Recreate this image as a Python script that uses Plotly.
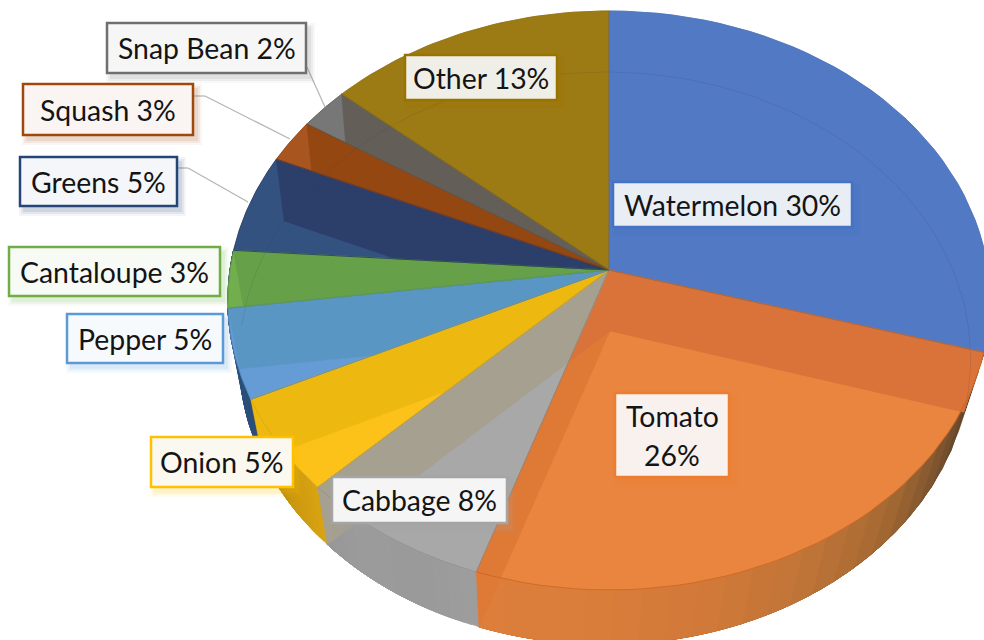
import math
import plotly.graph_objects as go

# --- data ---
names = ["Watermelon", "Tomato", "Cabbage", "Onion", "Pepper", "Cantaloupe", "Greens", "Squash", "Snap Bean", "Other"]
printed_pct = [30, 26, 8, 5, 5, 3, 5, 3, 2, 13]
drawn_share = [29.5, 25.6, 7.5, 5.3, 5.0, 3.2, 5.5, 2.45, 2.35, 13.6]

face = ["#5279C4", "#EA853F", "#A8A8A8", "#FCC21A", "#659CD6", "#72AE4E", "#345280", "#A8551F", "#777777", "#9D7B14"]
wall = ["#5279C4", "#D97339", "#A6A090", "#EDB911", "#5A96C4", "#66A048", "#2C3F6B", "#954712", "#635F58", "#9D7B14"]
edge = ["#4A70B8", "#C8641F", "#8F8F8F", "#D9A510", "#4E88BE", "#5E9A40", "#263A63", "#8A4010", "#5A5A52", "#8F7010"]
border = ["#4472C4", "#ED7D31", "#A5A5A5", "#FFC000", "#5B9BD5", "#70AD47", "#264478", "#9E480E", "#6F6F6F", "#997300"]
box_fill = ["#E9EEF5", "#F8F1ED", "#F5F5F5", "#FAF8EF", "#F6FAFD", "#F7FAF5", "#F5F6F9", "#FAF5F3", "#F6F6F6", "#F0EFE7"]
rim_stops = [
    ["#4A3A24", "#4A3A24"],
    ["#4A3A24", "#7A5230", "#A66A33", "#C27538", "#D27A3A", "#DA7E3B", "#DE7F3C"],
    ["#9E9E9E", "#9A9A9A", "#9C9C9C", "#989898"],
    ["#D9A514", "#C9960F", "#8F7A2A"],
    ["#2C4F7A", "#2C4F7A"],
    ["#2C4F7A", "#2C4F7A"],
]
tomato_left_wall = "#DF7A36"

# --- layout of the labels (px box: left, top, right, bottom) ---
boxes = [(613, 182, 852, 227), (615, 393, 729, 477), (332, 477, 507, 523), (151, 437, 293, 487),
         (67, 314, 223, 363), (9, 247, 220, 296), (20, 157, 177, 206), (23, 84, 193, 135),
         (107, 23, 306, 73), (405, 55, 557, 100)]
leaders = [[(306, 65), (325, 107)], [(193, 96), (205, 96), (290, 139)], [(177, 168), (188, 168), (248, 202)]]
FONT = "Lato"
FONT_SIZE = 28.4


def top_pt(t):
    X, Y = math.sin(t), math.cos(t)
    w = 1 + 0.1053 * Y
    return (609 + 379 * X / w, 270 - 286.3 * Y / w)


def bot_pt(t):
    X, Y = math.sin(t), math.cos(t)
    w = 1 + 0.0951 * Y
    return (605 + 364 * X / w, 331 - 283.6 * Y / w)


APEX_T, APEX_B = (609, 270), (610, 331)


def arc(fn, a, b, n=40):
    return [fn(a + (b - a) * i / n) for i in range(n + 1)]


def clip(subject, hull):
    area = sum(hull[i][0] * hull[(i + 1) % len(hull)][1] - hull[(i + 1) % len(hull)][0] * hull[i][1] for i in range(len(hull)))
    s = 1 if area > 0 else -1
    out = list(subject)
    for i in range(len(hull)):
        a, b = hull[i], hull[(i + 1) % len(hull)]
        side = lambda p: s * ((b[0] - a[0]) * (p[1] - a[1]) - (b[1] - a[1]) * (p[0] - a[0]))
        res = []
        for j in range(len(out)):
            p, q = out[j], out[(j + 1) % len(out)]
            sp, sq = side(p), side(q)
            if sp >= 0:
                res.append(p)
            if sp * sq < 0:
                u = sp / (sp - sq)
                res.append((p[0] + u * (q[0] - p[0]), p[1] + u * (q[1] - p[1])))
        out = res
        if not out:
            break
    return out


def hex_rgb(h):
    return tuple(int(h[i:i + 2], 16) for i in (1, 3, 5))


def mix(stops, u):
    u = min(max(u, 0), 1) * (len(stops) - 1)
    i = min(int(u), len(stops) - 2)
    f = u - i
    a, b = hex_rgb(stops[i]), hex_rgb(stops[i + 1])
    return "rgb(%d,%d,%d)" % tuple(a[k] + (b[k] - a[k]) * f for k in range(3))


fig = go.Figure()


def poly(pts, fill, line=None, width=0.0):
    fig.add_trace(go.Scatter(
        x=[p[0] for p in pts] + [pts[0][0]], y=[p[1] for p in pts] + [pts[0][1]],
        mode="lines", fill="toself", fillcolor=fill,
        line=dict(color=line or fill, width=width if line else 0.5),
        hoverinfo="skip", showlegend=False))


total = sum(drawn_share)
cuts = [0.0]
for v in drawn_share:
    cuts.append(cuts[-1] + v / total * 2 * math.pi)

# outer side of the solid, front part; each step runs on to the end of its slice so no seams show
for k, stops in enumerate(rim_stops):
    a, b = cuts[k], cuts[k + 1]
    if k == 0:
        a = math.radians(90)
    n = 24
    for i in range(n):
        t0 = a + (b - a) * i / n
        pts = arc(top_pt, t0, b, 12) + arc(bot_pt, b, t0, 12)
        poly(pts, mix(stops, (i + 0.5) / n))

# top faces
for k in range(len(names)):
    poly([APEX_T] + arc(top_pt, cuts[k], cuts[k + 1]), face[k])

# cut walls seen through the faces
for k in range(len(names)):
    sweep_a, sweep_b = top_pt(cuts[k]), top_pt(cuts[k + 1])
    far = lambda p: (APEX_T[0] + 4 * (p[0] - APEX_T[0]), APEX_T[1] + 4 * (p[1] - APEX_T[1]))
    wedge = [APEX_T, far(sweep_a), far(sweep_b)]
    for j, c in enumerate(cuts[1:-1], start=1):
        quad = [APEX_T, top_pt(c), bot_pt(c), APEX_B]
        part = clip(quad, wedge)
        if len(part) > 2:
            poly(part, tomato_left_wall if (k == 1 and j == 2) else wall[k])

# far edge of the lower disc, faintly through the top
far_edge = arc(bot_pt, cuts[6] - 0.05, 2 * math.pi, 50) + arc(bot_pt, 0, cuts[1], 50)
fig.add_trace(go.Scatter(x=[p[0] for p in far_edge], y=[p[1] for p in far_edge], mode="lines",
                         line=dict(color="rgba(30,50,90,0.12)", width=1), hoverinfo="skip", showlegend=False))

# slice outlines
for k in range(len(names)):
    pts = [APEX_T] + arc(top_pt, cuts[k], cuts[k + 1]) + [APEX_T]
    fig.add_trace(go.Scatter(x=[p[0] for p in pts], y=[p[1] for p in pts], mode="lines",
                             line=dict(color=edge[k], width=0.8), hoverinfo="skip", showlegend=False))

shapes, notes = [], []
for seg in leaders:
    for p, q in zip(seg, seg[1:]):
        shapes.append(dict(type="line", x0=p[0], y0=p[1], x1=q[0], y1=q[1], line=dict(color="#B4B4B4", width=1.2)))


def note(x, y, text):
    notes.append(dict(x=x, y=y, xref="x", yref="y", showarrow=False, text=text,
                      font=dict(family=FONT, size=FONT_SIZE, color="#141414")))


for k, name in enumerate(names):
    x0, y0, x1, y1 = boxes[k]
    r, g, b = hex_rgb(border[k])
    for grow, alpha in ((5, 0.05), (3, 0.08), (1, 0.10)):
        shapes.append(dict(type="rect", x0=x0 + 4 - grow, y0=y0 + 5 - grow, x1=x1 + 4 + grow, y1=y1 + 5 + grow,
                           fillcolor=f"rgba({r},{g},{b},{alpha})", line=dict(width=0)))
    shapes.append(dict(type="rect", x0=x0, y0=y0, x1=x1, y1=y1, fillcolor=box_fill[k],
                       line=dict(color=border[k], width=2.5)))
    cx, cy = (x0 + x1) / 2, (y0 + y1) / 2
    if name == "Tomato":
        note(cx, cy - 19, name)
        note(cx, cy + 20, f"{printed_pct[k]}%")
    else:
        note(cx, cy, f"{name} {printed_pct[k]}%")

fig.update_layout(
    width=984, height=640, margin=dict(l=0, r=0, t=0, b=0),
    paper_bgcolor="white", plot_bgcolor="white",
    xaxis=dict(range=[0, 984], visible=False, fixedrange=True),
    yaxis=dict(range=[640, 0], visible=False, fixedrange=True),
    shapes=shapes, annotations=notes, showlegend=False,
)
fig.write_html("out.html", config=dict(displayModeBar=False),
               post_script="document.body.style.margin='0';document.body.style.overflow='hidden';")
